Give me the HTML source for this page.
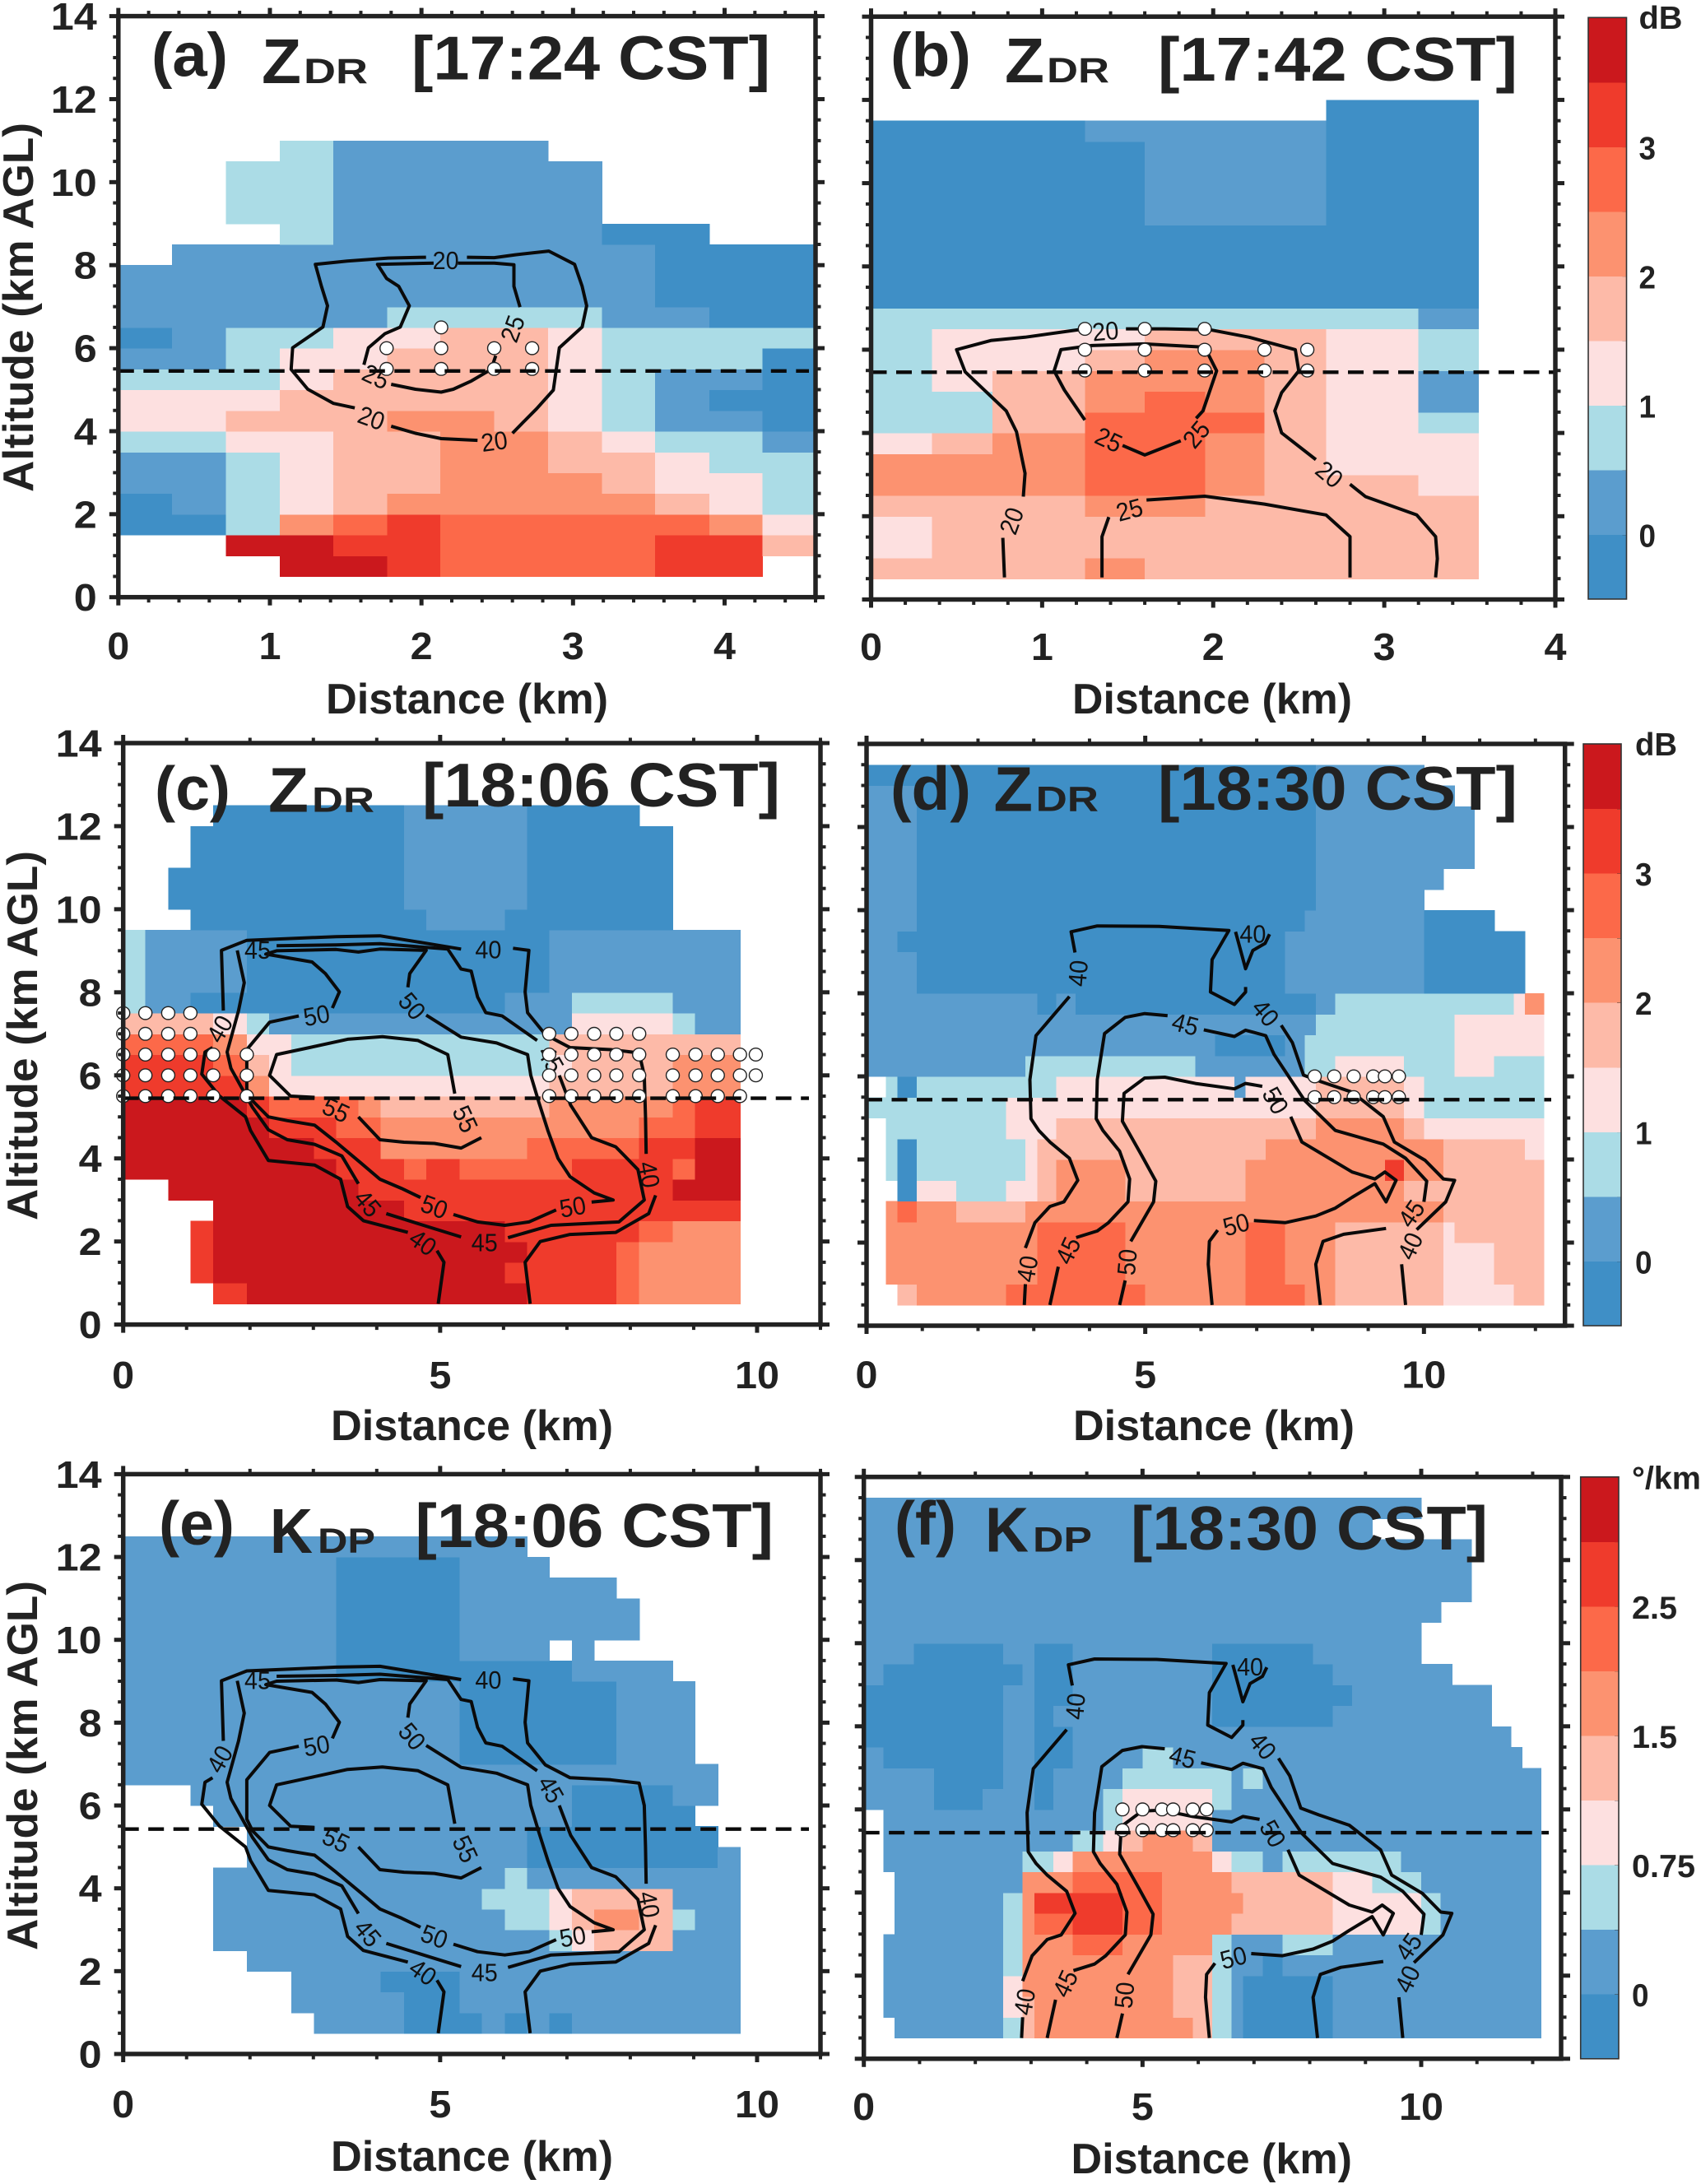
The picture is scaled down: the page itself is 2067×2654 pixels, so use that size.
<!DOCTYPE html>
<html lang="en">
<head>
<meta charset="utf-8">
<title>ZDR and KDP cross-sections</title>
<style>
html,body{margin:0;padding:0;background:#fff;}
svg{display:block;}
text{font-family:"Liberation Sans",Arial,sans-serif;fill:#222;}
</style>
</head>
<body>
<svg id="figure" xmlns="http://www.w3.org/2000/svg" width="2067" height="2654" viewBox="0 0 2067 2654"></svg>
<script>
// ---- Shared scale data ----
const levelColors = ["none","#3f8fc6","#5b9dce","#abdce6","#fde0e0","#fdbaa8","#fc9270","#fc6949","#ef3b2c","#cb181d"];
const rowStartKm = 0.5;
const rowStepKm = 0.5;
const yTickLabels = [0,2,4,6,8,10,12,14];
const zdrBarLabels = ["0","1","2","3"];
const kdpBarLabels = ["0","0.75","1.5","2.5"];
const barLevels = [1,3,5,7];

// ---- Panel (a) ZDR 17:24 ----
const xTicksA = [0,1,2,3,4];
const xEdgesA = [0,0.355,0.71,1.064,1.419,1.774,2.125,2.48,2.835,3.19,3.54,3.90,4.25,4.6];
const zdrA = [
[0,0,0,9,9,8,7,7,7,7,8,8,0],
[0,0,9,9,8,8,7,7,7,7,8,8,5],
[1,1,3,6,7,8,7,7,7,7,7,6,4],
[1,2,3,4,5,6,6,6,6,6,5,4,3],
[2,2,3,4,5,5,6,6,6,5,4,4,3],
[2,2,3,4,5,5,6,6,5,5,4,3,3],
[3,3,4,4,5,5,6,6,5,4,3,3,2],
[4,4,5,5,5,6,6,5,4,3,2,2,1],
[4,4,4,5,5,5,5,5,4,3,2,1,1],
[3,3,3,4,5,5,5,5,4,3,2,2,1],
[2,2,3,4,4,5,5,5,4,3,3,3,1],
[1,2,3,3,4,4,5,5,4,3,3,3,3],
[2,2,2,2,2,3,3,3,3,2,2,1,1],
[2,2,2,2,2,2,2,2,2,2,1,1,1],
[2,2,2,2,2,2,2,2,2,2,1,1,1],
[0,2,2,2,2,2,2,2,2,2,1,1,1],
[0,0,0,3,2,2,2,2,2,1,1,0,0],
[0,0,3,3,2,2,2,2,2,0,0,0,0],
[0,0,3,3,2,2,2,2,2,0,0,0,0],
[0,0,3,3,2,2,2,2,2,0,0,0,0],
[0,0,0,3,2,2,2,2,0,0,0,0,0]
];
const contourA = [
[[2.03,8.19],[1.78,8.17],[1.51,8.10],[1.30,8.02],[1.34,7.49],[1.38,7.02],[1.35,6.51],[1.15,6.01],[1.14,5.49],[1.25,5.01],[1.42,4.67],[1.56,4.56]],
[[1.80,4.12],[1.96,3.95],[2.13,3.82],[2.37,3.78]],
[[2.60,3.95],[2.67,4.21],[2.76,4.54],[2.87,4.99],[2.91,6.01],[3.06,6.51],[3.09,7.02],[3.06,7.49],[3.01,8.02],[2.84,8.34],[2.62,8.25],[2.48,8.18],[2.30,8.19]],
[[2.08,8.05],[1.71,8.02],[1.77,7.68],[1.85,7.49],[1.92,7.02],[1.86,6.51],[1.76,6.35],[1.65,6.01],[1.62,5.60]],
[[1.80,5.13],[1.96,5.01],[2.13,4.94],[2.21,5.01],[2.33,5.21],[2.46,5.49],[2.49,5.82]],
[[2.24,8.05],[2.48,8.05],[2.61,8.01],[2.61,7.49],[2.65,6.99]]
];
const contourLabelsA = [[20,2.16,8.12,0],[20,1.67,4.32,20],[20,2.48,3.76,-8],[25,2.60,6.47,-70],[25,1.70,5.32,25]];
const dotsA = [[2.13,6.5],[1.77,6],[2.13,6],[2.48,6],[2.73,6],[1.77,5.5],[2.13,5.5],[2.48,5.5],[2.73,5.5]];
const meltingLevelA = 5.45;

// ---- Panel (b) ZDR 17:42 ----
const xTicksB = [0,1,2,3,4];
const xEdgesB = [0,0.357,0.71,1.25,1.60,1.954,2.30,2.66,3.2,3.55];
const zdrB = [
[5,5,5,6,5,5,5,5,5],
[4,5,5,5,5,5,5,5,5],
[4,5,5,5,5,5,5,5,5],
[5,5,5,6,6,5,5,5,5],
[6,6,6,7,7,6,5,5,4],
[6,6,6,7,7,6,5,4,4],
[4,5,6,7,7,6,5,4,4],
[3,3,5,7,7,7,5,4,3],
[3,3,5,6,7,6,5,4,2],
[3,4,5,6,6,6,5,4,2],
[3,4,4,5,6,6,5,4,3],
[3,4,4,4,5,5,5,4,3],
[3,3,3,3,3,3,3,3,2],
[1,1,1,1,1,1,1,1,1],
[1,1,1,1,1,1,1,1,1],
[1,1,1,1,1,1,1,1,1],
[1,1,1,1,1,1,1,1,1],
[1,1,1,1,2,2,2,1,1],
[1,1,1,1,2,2,2,1,1],
[1,1,1,1,2,2,2,1,1],
[1,1,1,1,2,2,2,1,1],
[1,1,1,2,2,2,2,1,1],
[0,0,0,0,0,0,0,1,1]
];
const contourB = [
[[0.78,0.53],[0.77,1.48]],
[[0.89,2.47],[0.90,3.03],[0.85,4.03],[0.79,4.53],[0.55,5.47],[0.50,6.0],[0.70,6.22],[0.90,6.30],[1.25,6.50]],
[[1.49,6.50],[1.72,6.50],[1.98,6.48],[2.21,6.30],[2.48,6.0],[2.50,5.49],[2.40,4.97],[2.36,4.53],[2.40,4.0],[2.60,3.36]],
[[2.80,2.77],[2.89,2.47],[3.19,2.03],[3.30,1.51],[3.31,0.98],[3.30,0.53]],
[[1.25,4.31],[1.13,5.03],[1.07,5.49],[1.11,6.0],[1.29,6.10],[1.60,6.14],[1.95,6.06],[2.02,5.49],[1.94,4.53],[1.90,4.35]],
[[1.81,3.81],[1.60,3.47],[1.47,3.70]],
[[1.35,0.53],[1.35,1.51],[1.39,1.98]],
[[1.61,2.39],[1.95,2.48],[2.30,2.29],[2.66,2.03],[2.80,1.51],[2.80,0.53]]
];
const contourLabelsB = [[20,1.37,6.45,-5],[20,0.82,1.89,-70],[20,2.68,3.01,40],[25,1.39,3.84,25],[25,1.90,3.97,-50],[25,1.51,2.16,-15]];
const dotsB = [[1.25,6.5],[1.60,6.5],[1.95,6.5],[1.25,6],[1.60,6],[1.95,6],[2.30,6],[2.55,6],[1.25,5.5],[1.60,5.5],[1.95,5.5],[2.30,5.5],[2.55,5.5]];
const meltingLevelB = 5.46;

// ---- Panels (c)/(e) 18:06 ----
const xTicksC = [0,5,10];
const xEdgesC = [0,0.35,0.71,1.06,1.42,1.95,2.30,2.65,3.01,3.36,3.71,4.06,4.43,4.78,5.31,5.66,6.02,6.37,6.72,7.08,7.43,7.78,8.14,8.67,9.02,9.38,9.73];
const zdrC = [
[0,0,0,0,8,9,9,9,9,9,9,9,9,9,9,9,9,8,8,8,8,7,6,6,6,6],
[0,0,0,8,9,9,9,9,9,9,9,9,9,9,9,9,8,8,8,8,8,7,6,6,6,6],
[0,0,0,8,9,9,9,9,9,9,9,9,9,9,9,9,9,8,8,8,8,7,6,6,6,6],
[0,0,0,8,9,9,9,9,9,9,9,9,9,9,9,9,8,8,8,8,8,8,7,6,6,6],
[0,0,0,0,9,9,9,9,9,9,9,9,8,8,8,8,8,8,8,8,8,8,8,8,8,8],
[0,0,9,9,9,9,9,9,9,9,8,8,8,8,8,8,8,8,8,8,8,8,8,9,9,9],
[9,9,9,9,9,9,9,9,9,8,8,8,7,8,7,7,7,7,7,8,8,8,8,7,9,9],
[9,9,9,9,9,9,9,9,8,8,8,6,6,6,6,6,6,7,7,7,7,7,8,8,9,9],
[9,9,9,9,9,9,8,8,8,7,7,6,6,6,6,6,6,6,6,6,6,6,7,7,8,8],
[9,9,9,9,9,8,7,7,7,7,6,5,5,5,5,5,5,5,6,6,6,6,6,7,8,8],
[8,8,8,8,8,6,4,4,4,4,4,4,4,4,4,4,4,4,5,5,5,5,5,6,6,6],
[8,8,8,8,7,5,4,3,3,3,3,3,3,3,3,3,3,3,4,5,5,5,5,6,6,6],
[7,7,7,7,6,4,4,3,3,3,3,3,3,3,3,3,3,3,5,5,5,5,5,5,5,5],
[5,5,5,5,4,3,2,2,2,2,2,2,2,2,2,2,2,2,2,4,4,4,4,3,2,2],
[3,2,2,1,1,1,1,1,1,1,1,1,1,1,1,1,2,2,2,3,3,3,3,2,2,2],
[3,2,2,2,2,1,1,1,1,1,1,1,1,1,1,1,1,1,2,2,2,2,2,2,2,2],
[3,2,2,2,2,1,1,1,1,1,1,1,1,1,1,1,1,1,2,2,2,2,2,2,2,2],
[3,2,2,2,2,1,1,1,1,1,1,1,1,1,1,1,1,1,2,2,2,2,2,2,2,2],
[0,0,0,1,1,1,1,1,1,1,1,1,1,2,2,2,1,1,1,1,1,1,1,0,0,0],
[0,0,1,1,1,1,1,1,1,1,1,1,2,2,2,2,2,1,1,1,1,1,1,0,0,0],
[0,0,1,1,1,1,1,1,1,1,1,1,2,2,2,2,2,1,1,1,1,1,1,0,0,0],
[0,0,0,1,1,1,1,1,1,1,1,1,2,2,2,2,2,1,1,1,1,1,1,0,0,0],
[0,0,0,1,1,1,1,1,1,1,1,1,2,2,2,2,2,1,1,1,1,1,1,0,0,0],
[0,0,0,0,1,1,1,1,1,1,1,1,2,2,2,2,2,1,1,1,1,1,0,0,0,0]
];
const kdpE = [
[0,0,0,0,0,0,0,0,2,2,2,2,1,1,1,2,1,2,1,2,2,2,2,2,2,2],
[0,0,0,0,0,0,0,2,2,2,2,2,1,1,2,2,2,2,2,2,2,2,2,2,2,2],
[0,0,0,0,0,0,0,2,2,2,2,1,1,1,2,2,2,2,2,2,2,2,2,2,2,2],
[0,0,0,0,0,2,2,2,2,2,2,2,2,2,2,2,2,2,2,2,2,2,2,2,2,2],
[0,0,0,0,2,2,2,2,2,2,2,2,2,2,2,2,2,2,3,4,5,5,5,2,2,2],
[0,0,0,0,2,2,2,2,2,2,2,2,2,2,2,2,3,3,4,5,6,6,5,3,2,2],
[0,0,0,0,2,2,2,2,2,2,2,2,2,2,2,3,3,3,4,5,5,5,5,2,2,2],
[0,0,0,0,2,2,2,2,2,2,2,2,2,2,2,2,3,2,2,2,2,2,2,2,2,2],
[0,0,0,0,0,2,2,2,2,2,2,2,2,2,2,2,2,1,1,1,1,1,1,1,1,2],
[0,0,0,0,0,2,2,2,2,2,2,2,2,2,2,2,2,1,1,1,1,1,1,1,1,0],
[0,0,0,0,2,2,2,2,2,2,2,2,2,2,2,2,2,2,2,1,1,1,1,1,0,0],
[0,0,0,2,2,2,2,2,2,2,2,2,2,2,2,2,2,2,2,1,1,1,1,2,2,0],
[2,2,2,2,2,2,2,2,2,2,2,2,2,2,2,2,2,2,2,2,2,2,2,2,2,0],
[2,2,2,2,2,2,2,2,2,2,2,2,2,2,1,1,1,1,1,1,1,2,2,2,0,0],
[2,2,2,2,2,2,2,2,2,2,2,2,2,2,1,1,1,1,1,1,1,2,2,2,0,0],
[2,2,2,2,2,2,2,2,2,2,2,2,2,2,1,1,1,1,1,1,1,2,2,2,0,0],
[2,2,2,2,2,2,2,2,2,2,2,2,2,2,1,1,1,1,1,1,1,2,2,2,0,0],
[2,2,2,2,2,2,2,2,2,1,1,1,1,1,1,1,1,1,1,2,2,2,2,0,0,0],
[2,2,2,2,2,2,2,2,2,1,1,1,1,1,2,2,2,2,0,2,0,0,0,0,0,0],
[2,2,2,2,2,2,2,2,2,1,1,1,1,1,2,2,2,2,2,2,2,2,0,0,0,0],
[2,2,2,2,2,2,2,2,2,1,1,1,1,1,2,2,2,2,2,2,2,2,0,0,0,0],
[2,2,2,2,2,2,2,2,2,1,1,1,1,1,2,2,2,2,2,2,2,0,0,0,0,0],
[2,2,2,2,2,2,2,2,2,1,1,1,1,1,2,2,2,2,0,0,0,0,0,0,0,0],
[2,2,2,2,2,2,2,2,2,2,2,2,2,2,2,2,2,0,0,0,0,0,0,0,0,0]
];
const contourC = [
[[4.97,0.5],[5.06,1.5],[4.95,1.78]],
[[4.49,2.22],[3.79,2.5],[3.54,2.84],[3.43,3.5],[3.02,3.84],[2.29,3.95],[2.01,4.67],[1.93,5.0],[1.52,5.5],[1.24,6.03],[1.29,6.56],[1.41,6.67]],
[[1.58,7.56],[1.55,9.01],[1.95,9.25],[3.36,9.34],[4.05,9.36],[4.82,9.17],[5.33,9.04]],
[[6.15,9.06],[6.40,9.01],[6.34,8.01],[6.38,7.51],[6.66,6.98],[7.05,6.67],[7.69,6.62],[8.14,6.54],[8.22,6.0],[8.24,5.0],[8.25,4.11]],
[[8.40,3.11],[8.29,2.67],[7.77,2.22],[7.05,2.17],[6.58,2.0],[6.34,1.5],[6.42,0.5]],
[[2.42,9.12],[3.36,9.14],[4.05,9.17],[5.12,9.04],[5.33,8.56],[5.49,8.51],[5.59,7.89],[5.72,7.51],[5.98,7.43],[6.53,6.84]],
[[6.88,6.0],[7.06,5.28],[7.39,4.5],[7.77,4.28],[8.12,3.73],[8.22,3.0],[7.82,2.47],[6.75,2.39],[6.07,2.09]],
[[5.33,2.11],[4.82,2.35],[4.15,2.67]],
[[3.71,3.39],[3.45,4.06],[3.02,4.34],[2.59,4.45],[2.29,4.69],[2.04,5.23],[1.70,6.17],[1.64,6.56],[1.82,7.56],[1.91,8.23],[1.80,9.01]],
[[3.30,7.62],[3.41,8.01],[3.19,8.45],[2.98,8.73],[2.25,8.92],[2.42,9.0],[3.36,9.03],[3.71,8.97],[4.05,9.04],[4.78,9.01],[4.52,8.45],[4.49,8.12]],
[[2.77,7.43],[2.31,7.28],[1.95,6.62],[1.95,5.67],[2.04,5.39],[2.29,5.0],[2.59,4.91],[3.02,4.80],[3.36,4.39],[3.75,3.89],[4.05,3.50],[4.39,3.28],[4.69,3.06]],
[[5.21,2.65],[5.59,2.47],[6.02,2.39],[6.40,2.47],[6.83,2.76]],
[[7.39,2.95],[7.73,3.0],[7.43,3.17],[7.05,3.56],[6.86,4.0],[6.70,4.67],[6.56,5.34],[6.43,6.0],[6.38,6.50],[5.89,6.78],[5.33,6.92],[4.78,7.45]],
[[5.65,4.5],[5.33,4.25],[4.91,4.36],[4.43,4.39],[4.05,4.45],[3.71,5.0]],
[[3.02,5.47],[2.64,5.50],[2.31,6.0],[2.42,6.5],[2.94,6.67],[3.54,6.87],[4.09,6.93],[4.65,6.84],[5.12,6.50],[5.23,5.56]]
];
const contourLabelsC = [[40,5.76,9.04,0],[45,2.12,9.03,0],[50,3.05,7.45,-10],[50,4.56,7.67,50],[40,1.52,7.12,-60],[45,6.75,6.39,60],[55,3.36,5.17,25],[55,5.40,4.95,65],[40,8.30,3.61,80],[50,4.91,2.84,20],[50,7.09,2.84,-10],[45,3.86,2.92,50],[40,4.73,1.98,35],[45,5.70,1.98,0]];
const dotsC = [
[0,7.5],[0.35,7.5],[0.71,7.5],[1.06,7.5],
[0,7],[0.35,7],[0.71,7],[1.06,7],[6.72,7],[7.07,7],[7.43,7],[7.78,7],[8.14,7],
[0,6.5],[0.35,6.5],[0.71,6.5],[1.06,6.5],[1.42,6.5],[1.95,6.5],[6.72,6.5],[7.07,6.5],[7.43,6.5],[7.78,6.5],[8.14,6.5],[8.67,6.5],[9.03,6.5],[9.38,6.5],[9.73,6.5],[9.98,6.5],
[0,6],[0.35,6],[0.71,6],[1.06,6],[1.42,6],[1.95,6],[6.72,6],[7.07,6],[7.43,6],[7.78,6],[8.14,6],[8.67,6],[9.03,6],[9.38,6],[9.73,6],[9.98,6],
[0,5.5],[0.35,5.5],[0.71,5.5],[1.06,5.5],[1.42,5.5],[1.95,5.5],[6.72,5.5],[7.07,5.5],[7.43,5.5],[7.78,5.5],[8.14,5.5],[8.67,5.5],[9.03,5.5],[9.38,5.5],[9.73,5.5]
];
const dotsE = [];
const meltingLevelC = 5.45;
const meltingLevelE = 5.43;

// ---- Panels (d)/(f) 18:30 ----
const xTicksD = [0,5,10];
const xEdgesD = [0,0.35,0.55,0.90,1.61,2.50,2.85,3.06,3.40,3.75,4.29,4.64,5.0,5.90,6.25,6.60,6.80,7.16,7.51,7.86,8.06,8.41,9.30,9.64,10.0,10.35,10.55,10.9,11.26,11.61,11.81,12.15];
const zdrD = [
[0,0,5,6,6,7,7,7,7,7,7,7,6,6,6,6,7,7,7,6,6,5,5,5,5,4,4,4,4,5,5],
[0,6,6,6,6,6,6,7,7,7,7,6,6,6,6,6,7,7,6,6,6,5,5,5,5,4,4,4,5,5,5],
[0,6,6,6,6,6,6,7,7,7,7,6,6,6,6,6,7,7,6,6,6,5,5,5,5,4,4,4,5,5,5],
[0,6,6,6,6,6,6,7,7,7,7,6,6,6,6,6,7,7,6,6,6,5,5,5,5,4,5,5,5,5,5],
[0,6,7,6,5,5,6,6,6,6,6,6,6,6,6,6,6,6,6,6,6,6,6,6,6,5,5,5,5,5,5],
[0,0,1,4,3,4,4,5,6,6,6,5,5,5,5,5,6,6,6,6,6,6,6,5,5,5,5,5,5,5,5],
[0,3,1,3,3,3,4,5,6,6,6,5,5,5,5,5,6,6,6,6,6,6,8,6,6,5,5,5,5,5,5],
[0,3,1,3,3,3,4,5,5,5,5,5,5,5,5,5,5,6,6,6,6,6,6,6,6,5,5,5,5,5,4],
[0,3,3,3,3,4,4,4,5,5,5,5,5,5,5,5,5,5,5,5,6,6,6,5,4,4,4,4,4,4,4],
[3,3,3,3,3,4,4,4,4,4,4,4,4,4,4,4,4,4,4,4,5,5,5,4,3,3,3,3,3,3,3],
[0,3,1,3,3,3,3,3,4,4,4,4,4,4,4,2,4,4,4,4,5,5,5,4,3,3,3,3,3,3,3],
[2,2,2,2,2,2,3,3,3,3,3,3,3,2,2,2,2,2,2,3,3,4,4,3,3,3,4,4,3,3,3],
[2,2,2,2,2,2,2,2,2,2,2,2,2,2,1,1,1,1,2,3,3,3,3,3,3,3,4,4,4,4,4],
[2,2,2,2,2,2,2,2,2,2,2,2,2,2,2,2,2,2,2,2,3,3,3,3,3,3,4,4,4,4,4],
[2,2,2,2,2,2,2,1,2,1,1,1,1,1,1,1,1,1,1,1,2,3,3,3,3,3,3,3,3,4,6],
[2,2,2,1,1,1,1,1,1,1,1,1,1,1,1,1,1,1,2,2,2,2,2,2,1,1,1,1,1,1,0],
[2,2,2,1,1,1,1,1,1,1,1,1,1,1,1,1,1,1,2,2,2,2,2,2,1,1,1,1,1,1,0],
[2,2,1,1,1,1,1,1,1,1,1,1,1,1,1,1,1,1,2,2,2,2,2,2,1,1,1,1,1,1,0],
[2,2,2,1,1,1,1,1,1,1,1,1,1,1,1,1,1,1,1,2,2,2,2,2,1,1,1,1,0,0,0],
[2,2,2,1,1,1,1,1,1,1,1,1,1,1,1,1,1,1,1,1,2,2,2,2,0,0,0,0,0,0,0],
[2,2,2,1,1,1,1,1,1,1,1,1,1,1,1,1,1,1,1,1,2,2,2,2,2,0,0,0,0,0,0],
[2,2,2,1,1,1,1,1,1,1,1,1,1,1,1,1,1,1,1,1,2,2,2,2,2,2,2,0,0,0,0],
[2,2,2,1,1,1,1,1,1,1,1,1,1,1,1,1,1,1,1,1,2,2,2,2,2,2,2,0,0,0,0],
[2,2,2,1,1,1,1,1,1,1,1,1,1,1,1,1,1,1,1,1,2,2,2,2,2,2,2,0,0,0,0],
[2,2,2,1,1,1,1,1,1,1,1,1,1,1,1,1,1,1,1,1,2,2,2,2,2,2,0,0,0,0,0],
[1,1,1,1,1,1,1,1,1,1,1,1,1,1,1,1,1,1,1,1,2,2,2,2,0,0,0,0,0,0,0]
];
const xEdgesF = [0,0.35,0.55,0.90,1.26,1.80,2.13,2.50,2.85,3.06,3.40,3.75,4.29,4.64,5.0,5.35,5.55,5.90,6.25,6.60,6.80,7.16,7.51,8.06,8.41,8.76,9.12,9.64,10.0,10.35,10.55,10.9,11.26,11.61,11.81,12.15];
const kdpF = [
[0,0,2,2,2,2,2,3,5,6,6,6,6,6,6,6,6,5,3,2,1,1,1,1,2,2,2,2,2,2,2,2,2,2,2],
[0,2,2,2,2,2,2,4,5,6,6,6,6,6,6,6,5,5,3,2,1,1,1,1,2,2,2,2,2,2,2,2,2,2,2],
[0,2,2,2,2,2,2,4,6,6,6,6,6,6,6,6,5,5,3,2,1,1,1,1,2,2,2,2,2,2,2,2,2,2,2],
[0,2,2,2,2,2,2,3,6,6,6,6,6,6,6,6,5,5,3,2,2,1,2,2,2,2,2,2,2,2,2,2,2,2,2],
[0,2,2,2,2,2,2,3,6,6,6,7,7,6,6,6,6,6,3,2,2,2,3,3,2,2,2,2,2,2,2,2,2,2,2],
[0,0,2,2,2,2,2,3,6,7,7,8,8,7,7,6,6,6,6,5,5,5,5,5,4,4,4,4,3,2,2,2,2,2,2],
[0,0,2,2,2,2,2,3,6,8,8,8,8,7,7,6,6,6,6,6,5,5,5,5,4,4,4,4,3,2,2,2,2,2,2],
[0,0,2,2,2,2,2,2,6,6,6,7,7,7,7,6,6,6,6,5,5,5,5,5,4,4,3,3,2,2,2,2,2,2,2],
[0,2,2,2,2,2,2,2,3,3,4,6,6,6,6,6,6,6,4,3,3,2,3,3,3,3,3,2,2,2,2,2,2,2,2],
[0,2,2,2,2,2,2,2,2,2,2,3,4,5,6,6,6,5,2,2,2,2,2,2,2,2,2,2,2,2,2,2,2,2,2],
[0,2,2,2,2,2,2,2,2,2,2,2,3,4,4,4,4,4,2,2,2,2,2,2,2,2,2,2,2,2,2,2,2,2,2],
[2,2,2,2,1,1,2,2,2,1,2,2,3,4,4,4,4,4,3,2,2,2,2,2,2,2,2,2,2,2,2,2,2,2,2],
[2,2,2,2,1,1,1,2,2,1,2,2,2,3,3,3,3,3,3,2,3,2,2,2,2,2,2,2,2,2,2,2,2,2,2],
[2,1,1,1,1,1,1,2,2,1,1,2,2,2,3,3,2,2,2,2,2,2,2,2,2,2,2,2,2,2,2,2,2,2,0],
[1,1,1,1,1,1,1,2,2,1,1,2,2,2,2,2,2,2,2,2,2,2,2,2,2,2,2,2,2,2,2,2,2,0,0],
[1,1,1,1,1,1,1,2,2,1,2,2,2,2,2,2,2,2,1,1,1,1,1,1,2,2,2,2,2,2,2,2,0,0,0],
[1,1,1,1,1,1,1,2,2,1,1,2,2,2,2,2,2,2,1,1,1,1,1,1,1,2,2,2,2,2,2,2,0,0,0],
[2,1,1,1,1,1,1,1,2,1,1,2,2,2,2,2,2,2,1,1,1,1,1,1,2,2,2,2,2,2,0,0,0,0,0],
[2,2,2,1,1,1,1,2,2,1,1,2,2,2,2,2,2,2,1,1,1,1,1,2,2,2,2,2,0,0,0,0,0,0,0],
[2,2,2,2,2,2,2,2,2,2,2,2,2,2,2,2,2,2,2,2,2,2,2,2,2,2,2,2,0,0,0,0,0,0,0],
[2,2,2,2,2,2,2,2,2,2,2,2,2,2,2,2,2,2,2,2,2,2,2,2,2,2,2,2,2,0,0,0,0,0,0],
[2,2,2,2,2,2,2,2,2,2,2,2,2,2,2,2,2,2,2,2,2,2,2,2,2,2,2,2,2,2,2,0,0,0,0],
[2,2,2,2,2,2,2,2,2,2,2,2,2,2,2,2,2,2,2,2,2,2,2,2,2,2,2,2,2,2,2,0,0,0,0],
[2,2,2,2,2,2,2,2,2,2,2,2,2,2,2,2,2,2,2,2,2,2,2,2,2,2,2,2,2,2,2,0,0,0,0],
[2,2,2,2,2,2,2,2,2,2,2,2,2,2,2,2,2,2,2,2,2,2,2,2,2,2,0,0,0,0,0,0,0,0,0],
[2,2,2,2,2,2,2,2,2,2,2,2,2,2,2,2,2,2,2,2,2,2,2,2,2,2,2,2,0,0,0,0,0,0,0]
];
const contourD = [
[[2.83,0.5],[2.85,1.0]],
[[2.85,1.87],[3.02,2.48],[3.29,2.87],[3.54,2.98],[3.79,3.5],[3.64,4.03],[3.29,4.42],[3.09,4.7],[2.95,4.98],[2.93,5.92],[3.04,6.98],[3.64,7.92]],
[[3.74,8.98],[3.67,9.48],[4.14,9.62],[5.25,9.61],[6.50,9.51],[6.20,8.81],[6.17,8.03],[6.60,7.73],[6.80,8.03],[6.80,8.15]],
[[7.44,7.23],[7.64,6.81],[7.84,6.03],[8.16,5.87],[8.71,5.62],[9.27,5.03],[9.47,4.42],[10.02,3.98],[10.35,3.53],[10.55,3.5],[10.39,2.98],[9.87,2.31]],
[[9.6,1.48],[9.67,0.5]],
[[6.62,9.48],[6.80,8.59],[6.93,9.03],[7.15,9.2],[7.23,9.42]],
[[3.29,0.5],[3.44,1.42]],
[[3.76,2.12],[4.14,2.28],[4.34,2.48],[4.69,2.98],[4.72,3.53],[4.54,4.2],[4.24,4.7],[4.12,4.98],[4.14,5.92],[4.27,7.03],[4.64,7.42],[4.99,7.51],[5.40,7.46]],
[[6.05,7.12],[6.60,6.96],[6.80,7.11],[7.16,6.98],[7.31,6.53],[7.61,5.92],[7.86,5.42],[8.41,4.7],[9.27,4.37],[9.67,4.03],[10.05,3.48],[10.0,2.98]],
[[9.32,2.34],[8.56,2.2],[8.19,2.03],[8.06,1.48],[8.14,0.5]],
[[4.54,0.5],[4.64,1.09]],
[[4.74,2.03],[5.15,2.98],[5.19,3.48],[4.94,4.09],[4.59,4.92],[4.62,5.59],[4.99,5.96],[5.35,5.98],[5.90,5.83],[6.6,5.7],[6.80,5.83],[7.1,5.76]],
[[7.61,5.03],[7.81,4.42],[8.71,3.7],[9.12,3.53],[9.30,3.7],[9.50,3.5],[9.32,2.98],[9.12,3.42],[8.71,3.09],[8.41,2.83],[8.06,2.64],[7.51,2.48],[6.95,2.53]],
[[6.3,2.3],[6.15,2.03],[6.13,1.48],[6.2,0.5]]
];
const contourLabelsD = [[40,3.79,8.48,-85],[40,6.93,9.44,0],[40,7.16,7.53,50],[45,5.72,7.26,15],[50,7.34,5.42,60],[50,6.63,2.44,-15],[50,4.67,1.53,-85],[45,3.61,1.81,-65],[40,2.88,1.37,-80],[45,9.77,2.7,-55],[40,9.75,1.92,-65]];
const dotsD = [[8.04,6],[8.39,6],[8.74,6],[9.09,6],[9.30,6],[9.55,6],[8.04,5.5],[8.39,5.5],[8.74,5.5],[9.09,5.5],[9.30,5.5],[9.55,5.5]];
const dotsF = [[4.64,6],[5.0,6],[5.35,6],[5.55,6],[5.90,6],[6.15,6],[4.64,5.5],[5.0,5.5],[5.35,5.5],[5.55,5.5],[5.90,5.5],[6.15,5.5]];
const meltingLevelD = 5.44;
const meltingLevelF = 5.44;

// ---- Layout (pixels live here, not in the data arrays) ----
const NS = "http://www.w3.org/2000/svg";
const root = document.getElementById("figure");
const INK = "#222";

function mk(tag, attrs, parent) {
  const el = document.createElementNS(NS, tag);
  for (const k in attrs) el.setAttribute(k, attrs[k]);
  (parent || root).appendChild(el);
  return el;
}
function label(parent, str, x, y, size, bold, anchor, len, rot) {
  const a = {x: x, y: y, "font-size": size, "font-weight": bold ? "bold" : "normal", "text-anchor": anchor || "start"};
  if (len) { a.textLength = len; a.lengthAdjust = "spacingAndGlyphs"; }
  if (rot !== undefined) a.transform = "rotate(" + rot + " " + x + " " + y + ")";
  const el = mk("text", a, parent);
  el.textContent = str;
  return el;
}

function drawPanel(p) {
  const g = mk("g", {});
  
  
  const sx = km => p.left + km * (p.right - p.left) / p.xMax;
  const sy = km => p.bottom - km * (p.bottom - p.top) / 14;

  // heatmap cells
  const cells = mk("g", {"shape-rendering": "crispEdges"}, g);
  
  
  p.values.forEach((row, r) => {
    row.forEach((lvl, c) => {
      if (!lvl || c + 1 >= p.edges.length) return;
      const y1 = sy(rowStartKm + r * rowStepKm);
      const y2 = sy(rowStartKm + (r + 1) * rowStepKm);
      const rect = mk("rect", {x: sx(p.edges[c]), y: y2, width: sx(p.edges[c + 1]) - sx(p.edges[c]) + 0.6, height: y1 - y2 + 0.6, fill: levelColors[lvl]}, cells);
      
      
    });
  });

  // contours
  const cg = mk("g", {fill: "none", stroke: "#0a0a0a", "stroke-width": 4, "stroke-linejoin": "round"}, g);
  
  
  p.contours.forEach(seg => {
    const line = mk("polyline", {points: seg.map(pt => sx(pt[0]).toFixed(1) + "," + sy(pt[1]).toFixed(1)).join(" ")}, cg);
    
    
  });
  p.contourLabels.forEach(l => {
    const cx = sx(l[1]), cy = sy(l[2]);
    const t = mk("text", {x: cx, y: cy + 11, "font-size": 31, "text-anchor": "middle", textLength: 32, lengthAdjust: "spacingAndGlyphs", transform: "rotate(" + l[3] + " " + cx + " " + cy + ")", style: "fill:#111"}, g);
    t.textContent = String(l[0]);
    
    
  });

  // dots
  p.dots.forEach(d => {
    const dot = mk("ellipse", {cx: sx(d[0]), cy: sy(d[1]), rx: 8, ry: 7.8, fill: "#fff", stroke: "#222", "stroke-width": 1.4}, g);
    
    
  });

  // melting level
  const dash = mk("line", {x1: sx(0), x2: p.dashEnd, y1: sy(p.melting), y2: sy(p.melting), stroke: "#0a0a0a", "stroke-width": 4.4, "stroke-dasharray": "19 11.5"}, g);
  
  

  // title
  const tg = mk("g", {}, g);
  
  
  p.title.forEach(t => {
    const s = label(tg, t[0], t[1], t[4], t[3] * 1.1, true, "start", t[2] - t[1]);
    
    
  });

  // ticks
  const ticks = mk("g", {stroke: INK}, g);
  
  
  const tick = (x1, y1, x2, y2, w) => {
    const t = mk("line", {x1: x1, y1: y1, x2: x2, y2: y2, "stroke-width": w}, ticks);
    
    
  };
  for (let y = 0; y <= 14.001; y += 0.5) {
    const major = Math.abs(y / 2 - Math.round(y / 2)) < 1e-6;
    const len = major ? 11 : 6.5, w = major ? 5 : 4;
    tick(p.left - len, sy(y), p.left, sy(y), w);
    tick(p.right, sy(y), p.right + len, sy(y), w);
  }
  for (let x = 0; x <= p.xMax + 1e-6; x += p.xMinor) {
    const major = Math.abs(x / p.xMajor - Math.round(x / p.xMajor)) < 1e-6;
    const len = major ? 10 : 6.5, w = major ? 5 : 4;
    tick(sx(x), p.top - len, sx(x), p.top, w);
    tick(sx(x), p.bottom, sx(x), p.bottom + len, w);
  }

  // frame
  const frame = mk("rect", {x: p.left, y: p.top, width: p.right - p.left, height: p.bottom - p.top, fill: "none", stroke: INK, "stroke-width": 5.5}, g);
  
  

  // x tick labels
  p.xTicks.forEach(v => {
    const s = String(v);
    const t = label(g, s, sx(v), p.xLabelY, 46, true, "middle", s.length * 27);
    
    
  });
  // x title
  const xt = label(g, "Distance (km)", p.xTitle[0], p.xTitle[2], 52, true, "start", p.xTitle[1] - p.xTitle[0]);
  
  

  // y labels (left column only)
  if (p.yTitle) {
    yTickLabels.forEach(v => {
      const s = String(v);
      const t = label(g, s, p.left - 26, sy(v) + 16.5, 46, true, "end", s.length * 28);
      
      
    });
    const yt = label(g, "Altitude (km AGL)", p.yTitle[0], p.yTitle[2], 52, true, "start", p.yTitle[2] - p.yTitle[1], -90);
    
    
  }
}

function drawColorbar(b) {
  const g = mk("g", {});
  
  
  const n = levelColors.length - 1;
  const h = (b.bottom - b.top) / n;
  for (let i = 1; i <= n; i++) {
    const r = mk("rect", {x: b.left, y: b.bottom - i * h, width: b.right - b.left, height: h + 0.5, fill: levelColors[i], "shape-rendering": "crispEdges"}, g);
    
    
    if (i < n) {
      const tk = mk("line", {x1: b.right - 5, x2: b.right, y1: b.bottom - i * h, y2: b.bottom - i * h, stroke: "#333", "stroke-width": 1.5}, g);
      
      
    }
  }
  const o = mk("rect", {x: b.left, y: b.top, width: b.right - b.left, height: b.bottom - b.top, fill: "none", stroke: "#333", "stroke-width": 1.6}, g);
  
  
  b.labels.forEach((s, i) => {
    const w = s.length === 1 ? 20.5 : (s.length === 3 ? 55 : 77);
    const t = label(g, s, b.labelX, b.bottom - barLevels[i] * h + 15, 39, true, "start", w);
    
    
  });
  const u = label(g, b.unit, b.labelX, b.unitY, 39, true, "start", b.unitW);
  
  
}

drawPanel({id:"a", left:143.8, right:991, top:19.6, bottom:725.7, xMax:4.6, xMajor:1, xMinor:0.2, dashEnd:983,
  values:zdrA, edges:xEdgesA, contours:contourA, contourLabels:contourLabelsA, dots:dotsA, melting:meltingLevelA, xTicks:xTicksA,
  xLabelY:801, xTitle:[396,739,867], yTitle:[40,149,598],
  title:[["(a)",184,277,68,92.6],["Z",318,366,70,101],["DR",369,447,39,101],["[17:24 CST]",500,936,68,96.5]]});
drawPanel({id:"b", left:1058.5, right:1890, top:20.2, bottom:728.5, xMax:4, xMajor:1, xMinor:0.2, dashEnd:1890,
  values:zdrB, edges:xEdgesB, contours:contourB, contourLabels:contourLabelsB, dots:dotsB, melting:meltingLevelB, xTicks:xTicksB,
  xLabelY:802, xTitle:[1303,1643,867], yTitle:null,
  title:[["(b)",1082,1180,68,92.6],["Z",1221,1269,70,100],["DR",1272,1348,39,100],["[17:42 CST]",1407,1844,68,98]]});
drawPanel({id:"c", left:149.7, right:997, top:903, bottom:1609.6, xMax:11, xMajor:5, xMinor:1, dashEnd:983,
  values:zdrC, edges:xEdgesC, contours:contourC, contourLabels:contourLabelsC, dots:dotsC, melting:meltingLevelC, xTicks:xTicksC,
  xLabelY:1687, xTitle:[402,745,1750], yTitle:[45,1034,1483],
  title:[["(c)",188,280,68,984],["Z",326,375,70,986.6],["DR",379,455,39,986.6],["[18:06 CST]",513,948,68,980]]});
drawPanel({id:"d", left:1053, right:1901.7, top:904, bottom:1611, xMax:12.53, xMajor:5, xMinor:1, dashEnd:1885,
  values:zdrD, edges:xEdgesD, contours:contourD, contourLabels:contourLabelsD, dots:dotsD, melting:meltingLevelD, xTicks:xTicksD,
  xLabelY:1686.5, xTitle:[1304,1646,1750], yTitle:null,
  title:[["(d)",1082,1180,68,984],["Z",1207.5,1255,70,985.5],["DR",1258.6,1335,39,985.5],["[18:30 CST]",1407,1844,68,984]]});
drawPanel({id:"e", left:149.7, right:997, top:1791.4, bottom:2496, xMax:11, xMajor:5, xMinor:1, dashEnd:983,
  values:kdpE, edges:xEdgesC, contours:contourC, contourLabels:contourLabelsC, dots:dotsE, melting:meltingLevelE, xTicks:xTicksC,
  xLabelY:2573, xTitle:[402,745,2638], yTitle:[45,1921,2370],
  title:[["(e)",193,285,68,1877],["K",328,380,70,1887],["DP",386,456,39,1887],["[18:06 CST]",504.5,940,68,1880]]});
drawPanel({id:"f", left:1049.7, right:1897, top:1794.8, bottom:2501.8, xMax:12.51, xMajor:5, xMinor:1, dashEnd:1882,
  values:kdpF, edges:xEdgesF, contours:contourD, contourLabels:contourLabelsD, dots:dotsF, melting:meltingLevelF, xTicks:xTicksD,
  xLabelY:2576, xTitle:[1301.5,1643,2641], yTitle:null,
  title:[["(f)",1087,1162,68,1877],["K",1197,1250,70,1885.6],["DP",1255,1327,39,1885.6],["[18:30 CST]",1374,1808,68,1882.8]]});

drawColorbar({id:"zdr-top", left:1930, right:1976.5, top:21.3, bottom:728, labelX:1991.5, labels:zdrBarLabels, unit:"dB", unitY:35, unitW:53});
drawColorbar({id:"zdr-middle", left:1924, right:1970, top:904, bottom:1611, labelX:1987, labels:zdrBarLabels, unit:"dB", unitY:918, unitW:51});
drawColorbar({id:"kdp-bottom", left:1920.7, right:1967, top:1794.8, bottom:2501.8, labelX:1983, labels:kdpBarLabels, unit:"°/km", unitY:1809.5, unitW:84});
</script>
</body>
</html>
